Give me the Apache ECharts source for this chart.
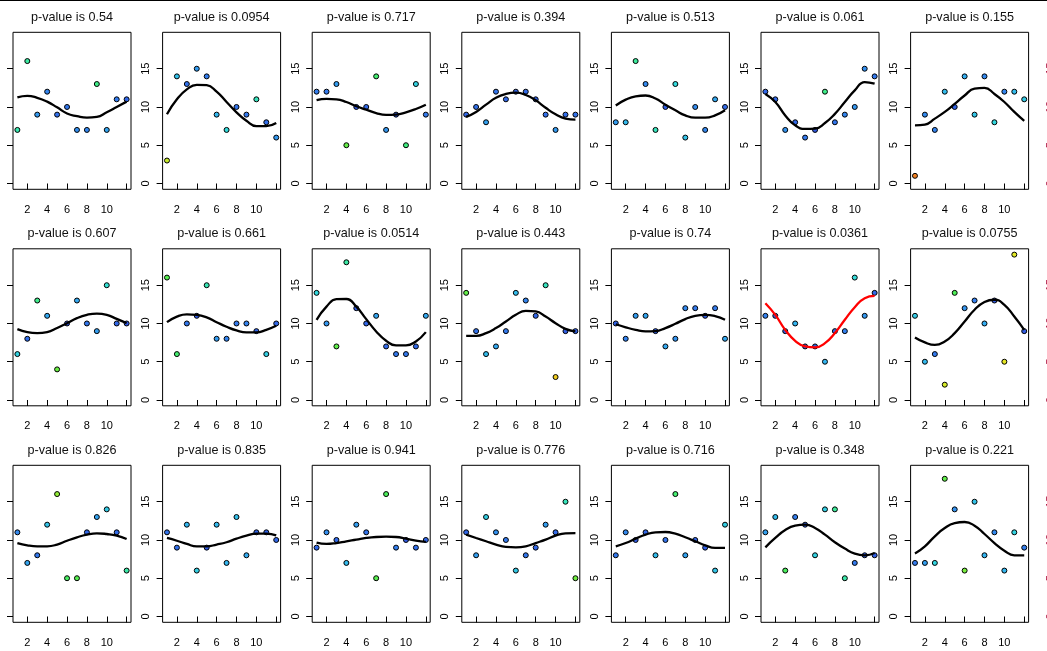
<!DOCTYPE html>
<html><head><meta charset="utf-8">
<script src="https://cdn.jsdelivr.net/npm/echarts@6/dist/echarts.min.js"></script>
<style>html,body{margin:0;padding:0;background:#fff}#c{width:1047px;height:651px}</style>
</head><body><div id="c"></div>
<script>
// ---------------- data ----------------
const xs = [1,2,3,4,5,6,7,8,9,10,11,12];
const pValues = [0.54,0.0954,0.717,0.394,0.513,0.061,0.155,
                 0.607,0.661,0.0514,0.443,0.74,0.0361,0.0755,
                 0.826,0.835,0.941,0.776,0.716,0.348,0.221];
const xTickValues = [2,4,6,8,10,12];
const xLabelValues = [2,4,6,8,10];
const yTickValues = [0,5,10,15];

const obs01 = [7,16,9,12,9,10,7,7,13,7,11,11];
const fit01 = [11.25,11.45,11.2,10.7,9.95,9.15,8.8,8.6,8.7,9.3,10.0,10.7];
const obs02 = [3,14,13,15,14,9,7,10,9,11,8,6];
const fit02 = [9.05,11.0,12.3,12.9,12.85,12.0,10.65,9.3,8.2,7.5,7.5,7.9];
const obs03 = [12,12,13,5,10,10,14,7,9,5,13,9];
const fit03 = [10.9,11.05,11.0,10.65,10.1,9.65,9.2,8.96,9.0,9.3,9.74,10.3];
const obs04 = [9,10,8,12,11,12,12,11,9,7,9,9];
const fit04 = [8.7,9.35,10.3,11.2,11.7,11.87,11.57,10.87,9.9,9.04,8.48,8.35];
const obs05 = [8,8,16,13,7,10,13,6,10,7,11,10];
const fit05 = [10.2,10.96,11.4,11.5,11.1,10.3,9.57,8.9,8.6,8.6,8.9,9.57];
const obs06 = [12,11,7,8,6,7,12,8,9,10,15,14];
const fit06 = [11.7,10.65,8.9,7.6,7.13,7.17,7.9,9.1,10.65,12.17,13.26,13.04];
const obs07 = [1,9,7,12,10,14,9,14,8,12,12,11];
const fit07 = [7.6,7.7,8.48,9.35,10.4,11.5,12.4,12.5,11.7,10.65,9.35,8.17];
const obs08 = [6,8,13,11,4,10,13,10,9,15,10,10];
const fit08 = [9.26,8.87,8.74,8.87,9.4,10.04,10.7,11.13,11.3,11.13,10.6,10.04];
const obs09 = [16,6,10,11,15,8,8,10,10,9,6,10];
const fit09 = [10.17,10.9,11.2,11.13,10.8,10.17,9.57,9.09,8.83,8.83,9.17,9.7];
const obs10 = [14,10,7,18,12,10,11,7,6,6,7,11];
const fit10 = [10.48,12.2,13.17,13.2,12.2,10.57,8.96,7.74,7.13,7.13,7.65,8.87];
const obs11 = [14,9,6,7,9,14,13,11,15,3,9,9];
const fit11 = [8.39,8.39,8.74,9.4,10.26,11.13,11.65,11.57,10.9,10.04,9.3,8.96];
const obs12 = [10,8,11,11,9,7,8,12,12,11,12,8];
const fit12 = [9.9,9.5,9.17,8.96,9.0,9.4,9.96,10.57,11.0,11.13,10.96,10.48];
const obs13 = [11,11,9,10,7,7,5,9,9,16,11,14];
const fit13 = [12.65,11.13,9.17,7.74,7.0,6.87,7.43,8.74,10.48,12.13,13.3,13.6];
const obs14 = [11,5,6,2,14,12,13,10,13,5,19,9];
const fit14 = [8.17,7.52,7.2,7.65,8.74,10.26,11.8,12.8,13.1,12.43,10.9,9.17];
const obs15 = [11,7,8,12,16,5,5,11,13,14,11,6];
const fit15 = [9.6,9.3,9.17,9.17,9.4,9.9,10.35,10.7,10.87,10.78,10.57,10.13];
const obs16 = [11,9,12,6,9,12,7,13,8,11,11,10];
const fit16 = [10.26,9.9,9.48,9.17,9.17,9.4,9.7,10.17,10.57,10.83,10.83,10.6];
const obs17 = [9,11,10,7,12,11,5,16,9,10,9,10];
const fit17 = [9.65,9.48,9.6,9.83,10.04,10.26,10.39,10.43,10.39,10.17,9.9,9.74];
const obs18 = [11,8,13,11,10,6,8,9,12,11,15,5];
const fit18 = [10.7,10.26,9.83,9.4,9.09,9.04,9.17,9.6,10.04,10.57,10.87,10.9];
const obs19 = [8,11,10,11,8,10,16,8,10,9,6,12];
const fit19 = [9.17,9.6,10.17,10.7,11.0,11.04,10.83,10.35,9.83,9.3,8.96,8.96];
const obs20 = [11,13,6,13,12,8,14,14,5,7,8,8];
const fit20 = [9.04,10.26,11.3,11.87,12.0,11.57,10.7,9.7,8.87,8.22,8.0,8.3];
const obs21 = [7,7,7,18,14,6,15,8,11,6,11,9];
const fit21 = [8.22,9.17,10.48,11.57,12.2,12.35,11.87,10.78,9.6,8.6,8.0,8.0];

const observed = [obs01,obs02,obs03,obs04,obs05,obs06,obs07,obs08,obs09,obs10,obs11,
                  obs12,obs13,obs14,obs15,obs16,obs17,obs18,obs19,obs20,obs21];
const fitted = [fit01,fit02,fit03,fit04,fit05,fit06,fit07,fit08,fit09,fit10,fit11,
                fit12,fit13,fit14,fit15,fit16,fit17,fit18,fit19,fit20,fit21];

// Poisson tail probability of a count given the fitted mean (drives point colour)
function poissonTail(y, mu) {
  let term = Math.exp(-mu), cdf = 0;
  for (let i = 0; i <= y; i++) { if (i > 0) term *= mu / i; cdf += term; }
  const pmf = term;
  const p = (y < mu) ? cdf : (1 - cdf + pmf);
  return -Math.log10(Math.max(p, 1e-6));
}

// ---------------- layout ----------------
const NCOL = 7;
const colStep = 149.6, rowStep = 216.5;
const boxLeft0 = 13, boxTop0 = 32.3, boxW = 118, boxH = 157;
const FONT = '"Liberation Sans", Arial, sans-serif';
const palette = ['#3050E0','#3380EE','#33B4F0','#33E0D8','#40EE80','#4CEE58','#70EE40',
                 '#B0EE30','#E4E824','#F0CC20','#F0A020','#F07820','#F05020'];

const grids = [], xAxes = [], yAxes = [], series = [], graphics = [], scatterIdx = [];

graphics.push({type:'rect', shape:{x:0,y:0,width:1047,height:1}, style:{fill:'#000'}, silent:true});

function addAxes(gi, left, top, opts) {
  grids.push({left:left, top:top, width:boxW, height:boxH, show:opts.box,
              outerBoundsMode:'none', containLabel:false,
              borderColor:'#000', borderWidth:1, backgroundColor:'transparent'});
  xAxes.push({gridIndex:gi, type:'value', min:0.56, max:12.44, show:opts.xShow,
    axisLine:{show:false}, splitLine:{show:false},
    axisTick:{show:true, length:6, lineStyle:{color:'#000', width:1}, customValues:xTickValues},
    axisLabel:{customValues:xLabelValues, fontSize:11, color:'#000', margin:15, fontFamily:FONT}});
  yAxes.push({gridIndex:gi, type:'value', min:-0.76, max:19.76,
    axisLine:{show:false}, splitLine:{show:false},
    axisTick:{show:opts.yTick, length:6, lineStyle:{color:'#000', width:1}, customValues:yTickValues},
    axisLabel:{customValues:yTickValues, rotate:90, fontSize:11, color:opts.yColor, margin:11, fontFamily:FONT}});
}

for (let k = 0; k < observed.length; k++) {
  const r = Math.floor(k / NCOL), c = k % NCOL;
  const left = boxLeft0 + colStep * c, top = boxTop0 + rowStep * r;
  addAxes(k, left, top, {box:true, xShow:true, yTick:true, yColor:'#000'});
  const obs = observed[k], fit = fitted[k];
  series.push({type:'scatter', xAxisIndex:k, yAxisIndex:k, z:2,
    symbol:'circle', symbolSize:5,
    itemStyle:{borderColor:'#000', borderWidth:1, opacity:1},
    data: xs.map((x,i)=>[x, obs[i], poissonTail(obs[i], fit[i])])});
  scatterIdx.push(series.length - 1);
  series.push({type:'line', xAxisIndex:k, yAxisIndex:k, z:3,
    smooth:0.5, showSymbol:false, silent:true,
    lineStyle:{color: pValues[k] < 0.05 ? '#FF0000' : '#000000', width:2.3},
    data: xs.map((x,i)=>[x, fit[i]])});
  graphics.push({type:'text', x: left + boxW/2, y: 17.2 + rowStep * r, silent:true,
    style:{text:'p-value is ' + String(pValues[k]), font:'12.6px ' + FONT, fill:'#111',
           align:'center', verticalAlign:'middle'}});
}
// clipped labels of the next (off-page) column at the right edge
for (let r = 0; r < 3; r++) {
  addAxes(observed.length + r, 1067, boxTop0 + rowStep * r, {box:false, xShow:false, yTick:false, yColor:'#B0204A'});
}

const chart = echarts.init(document.getElementById('c'), null, {renderer:'canvas'});
chart.setOption({
  animation:false,
  backgroundColor:'#fff',
  grid: grids, xAxis: xAxes, yAxis: yAxes, series: series,
  visualMap: {type:'continuous', show:false, seriesIndex: scatterIdx, dimension:2,
              min:0.2, max:2.6, inRange:{color: palette}},
  graphic: graphics
});
</script></body></html>
